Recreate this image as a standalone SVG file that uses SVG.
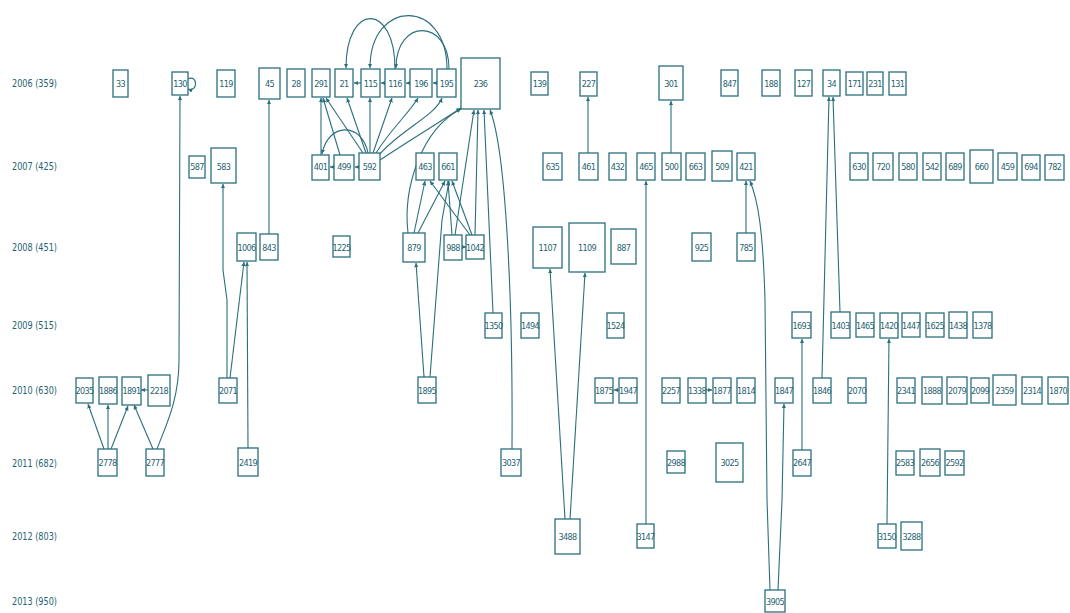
<svg xmlns="http://www.w3.org/2000/svg" width="1070" height="613" viewBox="0 0 1070 613">
<style>
.n rect{fill:#fff;stroke:#2a6f7d;stroke-width:1.3}
.n text{font-family:"Liberation Sans Narrow","DejaVu Sans Condensed","Liberation Sans",sans-serif;font-size:9px;fill:#1f6371;text-anchor:middle;letter-spacing:-0.6px}
.yr{font-family:"Liberation Sans Narrow","DejaVu Sans Condensed","Liberation Sans",sans-serif;font-size:10px;fill:#1f6371}
#edges path{fill:none;stroke:#2a6f7d;stroke-width:1.1;marker-end:url(#ah)}
</style>
<defs>
<marker id="ah" viewBox="0 0 6 6" refX="6" refY="3" markerWidth="4" markerHeight="4" orient="auto"><path d="M0,0 L6,3 L0,6 z" fill="#2a6f7d"/></marker>
</defs>
<rect width="1070" height="613" fill="#fff"/>
<g id="years">
<text class="yr" x="12" y="87" textLength="45" lengthAdjust="spacingAndGlyphs">2006 (359)</text>
<text class="yr" x="12" y="170" textLength="45" lengthAdjust="spacingAndGlyphs">2007 (425)</text>
<text class="yr" x="12" y="251" textLength="45" lengthAdjust="spacingAndGlyphs">2008 (451)</text>
<text class="yr" x="12" y="329" textLength="45" lengthAdjust="spacingAndGlyphs">2009 (515)</text>
<text class="yr" x="12" y="394" textLength="45" lengthAdjust="spacingAndGlyphs">2010 (630)</text>
<text class="yr" x="12" y="467" textLength="45" lengthAdjust="spacingAndGlyphs">2011 (682)</text>
<text class="yr" x="12" y="540" textLength="45" lengthAdjust="spacingAndGlyphs">2012 (803)</text>
<text class="yr" x="12" y="605" textLength="45" lengthAdjust="spacingAndGlyphs">2013 (950)</text>
</g>
<g id="edges">
<path d="M188,79 C198,74 198,93 188,89"/>
<path d="M157,449 C166,425 179,400 179,360 L180,96"/>
<path d="M153,449 L134,405"/>
<path d="M104,449 L88,404"/>
<path d="M108,449 L108,405"/>
<path d="M111,449 L128,406"/>
<path d="M148,390 L141,390"/>
<path d="M227,378 L227,300 L223,270 L223,184"/>
<path d="M230,378 L244,262"/>
<path d="M248,448 L247,262"/>
<path d="M269,234 L269,100"/>
<path d="M321,155 L321,98"/>
<path d="M340,155 L323,98"/>
<path d="M363,153 L326,98"/>
<path d="M366,153 L347,98"/>
<path d="M370,153 L370,98"/>
<path d="M373,153 L392,98"/>
<path d="M376,153 C390,130 410,112 418,98"/>
<path d="M379,155 C400,130 435,116 442,98"/>
<path d="M380,160 C410,140 440,122 461,108"/>
<path d="M334,167 L330,167"/>
<path d="M359,167 L355,167"/>
<path d="M368,153 C362,122 328,122 322,154"/>
<path d="M361,83 L354,83"/>
<path d="M385,83 L381,83"/>
<path d="M410,83 L406,83"/>
<path d="M437,83 L433,83"/>
<path d="M395,69 C395,2 346,2 346,68"/>
<path d="M447,69 C447,-2 370,-2 370,68"/>
<path d="M449,69 C449,18 396,18 396,68"/>
<path d="M408,233 C403,190 420,130 461,109"/>
<path d="M455,235 L474,110"/>
<path d="M475,235 L478,110"/>
<path d="M493,313 L484,110"/>
<path d="M512,449 C513,300 506,150 490,110"/>
<path d="M414,233 L425,181"/>
<path d="M418,233 L445,181"/>
<path d="M452,235 L448,181"/>
<path d="M472,235 L452,181"/>
<path d="M470,235 L430,181"/>
<path d="M462,247 L466,247"/>
<path d="M424,377 L416,263"/>
<path d="M430,377 L442,220 L449,181"/>
<path d="M565,519 L550,269"/>
<path d="M570,519 L585,273"/>
<path d="M588,153 L588,97"/>
<path d="M671,153 L671,101"/>
<path d="M646,524 L646,181"/>
<path d="M619,390 L614,390"/>
<path d="M706,390 L712,390"/>
<path d="M746,233 L746,181"/>
<path d="M770,590 L767,500 L765,300 C763,230 758,200 750,181"/>
<path d="M778,590 L782,500 L784,404"/>
<path d="M840,312 L833,97"/>
<path d="M822,378 L829,97"/>
<path d="M802,450 L802,339"/>
<path d="M887,524 L889,339"/>
</g>
<g id="n33" class="n"><rect x="113" y="70" width="15" height="27"/><text x="120.5" y="86.5">33</text></g>
<g id="n130" class="n"><rect x="172" y="72" width="16" height="23"/><text x="180" y="86.5">130</text></g>
<g id="n119" class="n"><rect x="217" y="70" width="18" height="27"/><text x="226" y="86.5">119</text></g>
<g id="n45" class="n"><rect x="259" y="68" width="21" height="31"/><text x="269.5" y="86.5">45</text></g>
<g id="n28" class="n"><rect x="287" y="69" width="18" height="28"/><text x="296" y="86.5">28</text></g>
<g id="n291" class="n"><rect x="312" y="69" width="18" height="28"/><text x="321" y="86.5">291</text></g>
<g id="n21" class="n"><rect x="335" y="69" width="18" height="28"/><text x="344" y="86.5">21</text></g>
<g id="n115" class="n"><rect x="361" y="69" width="19" height="28"/><text x="370.5" y="86.5">115</text></g>
<g id="n116" class="n"><rect x="385" y="69" width="20" height="28"/><text x="395" y="86.5">116</text></g>
<g id="n196" class="n"><rect x="410" y="69" width="22" height="28"/><text x="421" y="86.5">196</text></g>
<g id="n195" class="n"><rect x="437" y="69" width="19" height="28"/><text x="446.5" y="86.5">195</text></g>
<g id="n236" class="n"><rect x="461" y="58" width="39" height="51"/><text x="480.5" y="86.5">236</text></g>
<g id="n139" class="n"><rect x="531" y="72" width="17" height="23"/><text x="539.5" y="86.5">139</text></g>
<g id="n227" class="n"><rect x="580" y="72" width="17" height="24"/><text x="588.5" y="86.5">227</text></g>
<g id="n301" class="n"><rect x="659" y="66" width="24" height="34"/><text x="671" y="86.5">301</text></g>
<g id="n847" class="n"><rect x="721" y="70" width="17" height="26"/><text x="729.5" y="86.5">847</text></g>
<g id="n188" class="n"><rect x="762" y="70" width="18" height="26"/><text x="771" y="86.5">188</text></g>
<g id="n127" class="n"><rect x="795" y="70" width="17" height="26"/><text x="803.5" y="86.5">127</text></g>
<g id="n34" class="n"><rect x="823" y="70" width="17" height="26"/><text x="831.5" y="86.5">34</text></g>
<g id="n171" class="n"><rect x="846" y="72" width="17" height="23"/><text x="854.5" y="86.5">171</text></g>
<g id="n231" class="n"><rect x="867" y="72" width="16" height="23"/><text x="875" y="86.5">231</text></g>
<g id="n131" class="n"><rect x="889" y="72" width="17" height="23"/><text x="897.5" y="86.5">131</text></g>
<g id="n587" class="n"><rect x="189" y="156" width="16" height="22"/><text x="197" y="170">587</text></g>
<g id="n583" class="n"><rect x="211" y="148" width="25" height="35"/><text x="223.5" y="170">583</text></g>
<g id="n401" class="n"><rect x="312" y="155" width="17" height="25"/><text x="320.5" y="170">401</text></g>
<g id="n499" class="n"><rect x="334" y="155" width="20" height="25"/><text x="344" y="170">499</text></g>
<g id="n592" class="n"><rect x="359" y="153" width="21" height="27"/><text x="369.5" y="170">592</text></g>
<g id="n463" class="n"><rect x="416" y="153" width="18" height="27"/><text x="425" y="170">463</text></g>
<g id="n661" class="n"><rect x="439" y="153" width="18" height="27"/><text x="448" y="170">661</text></g>
<g id="n635" class="n"><rect x="543" y="153" width="19" height="27"/><text x="552.5" y="170">635</text></g>
<g id="n461" class="n"><rect x="579" y="153" width="19" height="27"/><text x="588.5" y="170">461</text></g>
<g id="n432" class="n"><rect x="609" y="153" width="17" height="27"/><text x="617.5" y="170">432</text></g>
<g id="n465" class="n"><rect x="637" y="153" width="18" height="27"/><text x="646" y="170">465</text></g>
<g id="n500" class="n"><rect x="662" y="153" width="19" height="27"/><text x="671.5" y="170">500</text></g>
<g id="n663" class="n"><rect x="686" y="153" width="19" height="27"/><text x="695.5" y="170">663</text></g>
<g id="n509" class="n"><rect x="712" y="151" width="20" height="30"/><text x="722" y="170">509</text></g>
<g id="n421" class="n"><rect x="737" y="153" width="18" height="27"/><text x="746" y="170">421</text></g>
<g id="n630" class="n"><rect x="850" y="153" width="18" height="27"/><text x="859" y="170">630</text></g>
<g id="n720" class="n"><rect x="873" y="153" width="20" height="27"/><text x="883" y="170">720</text></g>
<g id="n580" class="n"><rect x="899" y="153" width="18" height="27"/><text x="908" y="170">580</text></g>
<g id="n542" class="n"><rect x="923" y="153" width="18" height="27"/><text x="932" y="170">542</text></g>
<g id="n689" class="n"><rect x="946" y="153" width="18" height="27"/><text x="955" y="170">689</text></g>
<g id="n660" class="n"><rect x="970" y="150" width="23" height="33"/><text x="981.5" y="170">660</text></g>
<g id="n459" class="n"><rect x="998" y="153" width="19" height="27"/><text x="1007.5" y="170">459</text></g>
<g id="n694" class="n"><rect x="1022" y="155" width="18" height="25"/><text x="1031" y="170">694</text></g>
<g id="n782" class="n"><rect x="1045" y="155" width="19" height="25"/><text x="1054.5" y="170">782</text></g>
<g id="n1006" class="n"><rect x="237" y="233" width="19" height="28"/><text x="246.5" y="250.5">1006</text></g>
<g id="n843" class="n"><rect x="260" y="234" width="18" height="26"/><text x="269" y="250.5">843</text></g>
<g id="n1225" class="n"><rect x="333" y="236" width="17" height="21"/><text x="341.5" y="250.5">1225</text></g>
<g id="n879" class="n"><rect x="403" y="233" width="22" height="29"/><text x="414" y="250.5">879</text></g>
<g id="n988" class="n"><rect x="444" y="235" width="18" height="25"/><text x="453" y="250.5">988</text></g>
<g id="n1042" class="n"><rect x="466" y="235" width="18" height="24"/><text x="475" y="250.5">1042</text></g>
<g id="n1107" class="n"><rect x="533" y="227" width="29" height="41"/><text x="547.5" y="250.5">1107</text></g>
<g id="n1109" class="n"><rect x="569" y="223" width="36" height="49"/><text x="587" y="250.5">1109</text></g>
<g id="n887" class="n"><rect x="611" y="229" width="25" height="35"/><text x="623.5" y="250.5">887</text></g>
<g id="n925" class="n"><rect x="692" y="233" width="19" height="28"/><text x="701.5" y="250.5">925</text></g>
<g id="n785" class="n"><rect x="737" y="233" width="18" height="28"/><text x="746" y="250.5">785</text></g>
<g id="n1350" class="n"><rect x="485" y="313" width="17" height="25"/><text x="493.5" y="328.5">1350</text></g>
<g id="n1494" class="n"><rect x="521" y="313" width="18" height="25"/><text x="530" y="328.5">1494</text></g>
<g id="n1524" class="n"><rect x="607" y="313" width="17" height="25"/><text x="615.5" y="328.5">1524</text></g>
<g id="n1693" class="n"><rect x="792" y="312" width="19" height="26"/><text x="801.5" y="328.5">1693</text></g>
<g id="n1403" class="n"><rect x="831" y="312" width="19" height="26"/><text x="840.5" y="328.5">1403</text></g>
<g id="n1465" class="n"><rect x="856" y="313" width="18" height="24"/><text x="865" y="328.5">1465</text></g>
<g id="n1420" class="n"><rect x="880" y="313" width="18" height="25"/><text x="889" y="328.5">1420</text></g>
<g id="n1447" class="n"><rect x="902" y="313" width="18" height="24"/><text x="911" y="328.5">1447</text></g>
<g id="n1625" class="n"><rect x="926" y="313" width="18" height="24"/><text x="935" y="328.5">1625</text></g>
<g id="n1438" class="n"><rect x="949" y="312" width="18" height="26"/><text x="958" y="328.5">1438</text></g>
<g id="n1378" class="n"><rect x="973" y="312" width="19" height="26"/><text x="982.5" y="328.5">1378</text></g>
<g id="n2035" class="n"><rect x="76" y="378" width="17" height="25"/><text x="84.5" y="393.5">2035</text></g>
<g id="n1886" class="n"><rect x="99" y="377" width="18" height="27"/><text x="108" y="393.5">1886</text></g>
<g id="n1891" class="n"><rect x="122" y="377" width="19" height="28"/><text x="131.5" y="393.5">1891</text></g>
<g id="n2218" class="n"><rect x="148" y="375" width="22" height="31"/><text x="159" y="393.5">2218</text></g>
<g id="n2071" class="n"><rect x="219" y="378" width="18" height="25"/><text x="228" y="393.5">2071</text></g>
<g id="n1895" class="n"><rect x="418" y="377" width="18" height="26"/><text x="427" y="393.5">1895</text></g>
<g id="n1875" class="n"><rect x="595" y="378" width="18" height="25"/><text x="604" y="393.5">1875</text></g>
<g id="n1947" class="n"><rect x="619" y="378" width="18" height="25"/><text x="628" y="393.5">1947</text></g>
<g id="n2257" class="n"><rect x="662" y="378" width="18" height="25"/><text x="671" y="393.5">2257</text></g>
<g id="n1338" class="n"><rect x="688" y="378" width="18" height="25"/><text x="697" y="393.5">1338</text></g>
<g id="n1877" class="n"><rect x="713" y="378" width="18" height="25"/><text x="722" y="393.5">1877</text></g>
<g id="n1814" class="n"><rect x="737" y="378" width="18" height="25"/><text x="746" y="393.5">1814</text></g>
<g id="n1847" class="n"><rect x="775" y="378" width="18" height="25"/><text x="784" y="393.5">1847</text></g>
<g id="n1846" class="n"><rect x="813" y="378" width="18" height="25"/><text x="822" y="393.5">1846</text></g>
<g id="n2070" class="n"><rect x="848" y="378" width="18" height="25"/><text x="857" y="393.5">2070</text></g>
<g id="n2341" class="n"><rect x="897" y="378" width="18" height="25"/><text x="906" y="393.5">2341</text></g>
<g id="n1888" class="n"><rect x="922" y="377" width="20" height="27"/><text x="932" y="393.5">1888</text></g>
<g id="n2079" class="n"><rect x="947" y="377" width="20" height="27"/><text x="957" y="393.5">2079</text></g>
<g id="n2099" class="n"><rect x="971" y="378" width="18" height="25"/><text x="980" y="393.5">2099</text></g>
<g id="n2359" class="n"><rect x="993" y="375" width="23" height="30"/><text x="1004.5" y="393.5">2359</text></g>
<g id="n2314" class="n"><rect x="1022" y="377" width="20" height="27"/><text x="1032" y="393.5">2314</text></g>
<g id="n1870" class="n"><rect x="1048" y="377" width="20" height="27"/><text x="1058" y="393.5">1870</text></g>
<g id="n2778" class="n"><rect x="98" y="449" width="19" height="27"/><text x="107.5" y="466">2778</text></g>
<g id="n2777" class="n"><rect x="146" y="449" width="18" height="27"/><text x="155" y="466">2777</text></g>
<g id="n2419" class="n"><rect x="238" y="448" width="20" height="28"/><text x="248" y="466">2419</text></g>
<g id="n3037" class="n"><rect x="501" y="449" width="20" height="27"/><text x="511" y="466">3037</text></g>
<g id="n2988" class="n"><rect x="667" y="451" width="18" height="22"/><text x="676" y="466">2988</text></g>
<g id="n3025" class="n"><rect x="716" y="443" width="27" height="39"/><text x="729.5" y="466">3025</text></g>
<g id="n2647" class="n"><rect x="793" y="450" width="18" height="26"/><text x="802" y="466">2647</text></g>
<g id="n2583" class="n"><rect x="896" y="451" width="18" height="24"/><text x="905" y="466">2583</text></g>
<g id="n2656" class="n"><rect x="920" y="449" width="20" height="27"/><text x="930" y="466">2656</text></g>
<g id="n2592" class="n"><rect x="945" y="451" width="19" height="24"/><text x="954.5" y="466">2592</text></g>
<g id="n3488" class="n"><rect x="555" y="519" width="25" height="35"/><text x="567.5" y="539.5">3488</text></g>
<g id="n3147" class="n"><rect x="637" y="524" width="17" height="24"/><text x="645.5" y="539.5">3147</text></g>
<g id="n3150" class="n"><rect x="878" y="524" width="18" height="24"/><text x="887" y="539.5">3150</text></g>
<g id="n3288" class="n"><rect x="901" y="522" width="21" height="28"/><text x="911.5" y="539.5">3288</text></g>
<g id="n3905" class="n"><rect x="765" y="590" width="20" height="22"/><text x="775" y="604.5">3905</text></g>
</svg>
